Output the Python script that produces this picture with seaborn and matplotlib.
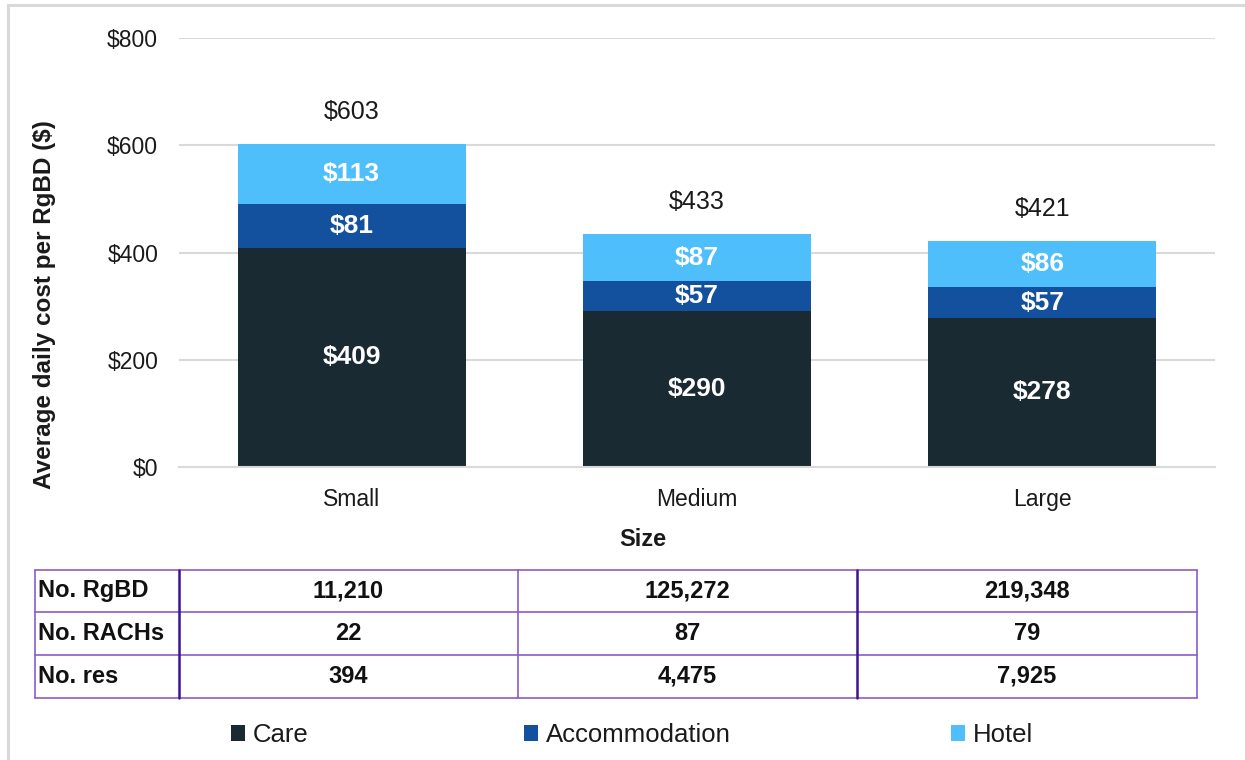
import matplotlib
matplotlib.use("Agg")
import matplotlib.pyplot as plt
import seaborn as sns
import pandas as pd
from matplotlib.patches import Patch
from matplotlib.lines import Line2D

# Average daily cost per RgBD by facility size
sizes = ["Small", "Medium", "Large"]
care = [409, 290, 278]
accommodation = [81, 57, 57]
hotel = [113, 87, 86]
totals = [603, 433, 421]

# Facility counts shown beneath the chart
row_labels = ["No. RgBD", "No. RACHs", "No. res"]
no_rgbd = ["11,210", "125,272", "219,348"]
no_rachs = ["22", "87", "79"]
no_res = ["394", "4,475", "7,925"]

y_ticks = [0, 200, 400, 600, 800]

c_care = "#1a2a33"
c_acc = "#13519f"
c_hotel = "#4fbffb"
grid_c = "#d9d9d9"
border_c = "#8a5cc8"
border_dark = "#3f128f"
text_c = "#1a1a1a"

sns.set_theme(style="white")
plt.rcParams["font.family"] = ["Liberation Sans", "DejaVu Sans"]

fig = plt.figure(figsize=(12.45, 7.6), dpi=100)
W, H = 1245, 760

def fx(x):
    return x / W

def fy(y):
    return 1 - y / H

ax_left, ax_right, ax_top, ax_bottom = 179, 1215, 38, 467
ax = fig.add_axes([fx(ax_left), fy(ax_bottom), fx(ax_right) - fx(ax_left), fy(ax_top) - fy(ax_bottom)])

df = pd.DataFrame({
    "size": sizes,
    "care": care,
    "care_acc": [c + a for c, a in zip(care, accommodation)],
    "total": [c + a + h for c, a, h in zip(care, accommodation, hotel)],
})

bw = 0.66
sns.barplot(data=df, x="size", y="total", color=c_hotel, width=bw, saturation=1, ax=ax, zorder=2)
sns.barplot(data=df, x="size", y="care_acc", color=c_acc, width=bw, saturation=1, ax=ax, zorder=2)
sns.barplot(data=df, x="size", y="care", color=c_care, width=bw, saturation=1, ax=ax, zorder=2)
for p in ax.patches:
    p.set_edgecolor("none")

ax.set_ylim(0, 800)
ax.set_xlim(-0.5, 2.5)
ax.set_yticks(y_ticks)
ax.set_yticklabels([f"${v}" for v in y_ticks], fontsize=16.5, color=text_c)
ax.yaxis.grid(True, color=grid_c, linewidth=1.5, zorder=0)
ax.set_axisbelow(True)
for s in ["top", "right", "left"]:
    ax.spines[s].set_visible(False)
ax.spines["bottom"].set_color(grid_c)
ax.spines["bottom"].set_linewidth(1.5)
ax.tick_params(axis="y", length=0, pad=15)
ax.set_xticks(range(len(sizes)))
ax.set_xticklabels(sizes, fontsize=16.5, color=text_c)
ax.tick_params(axis="x", length=0, pad=15)
ax.set_xticks([-0.5, 0.5, 1.5, 2.5], minor=True)
ax.tick_params(axis="x", which="minor", length=7, width=1.5, color=grid_c, direction="out")
ax.set_xlabel("")
ax.set_ylabel("Average daily cost per RgBD ($)", fontsize=17.5, fontweight="bold",
              color=text_c, va="center")
ax.yaxis.set_label_coords((45 - ax_left) / (ax_right - ax_left),
                          (ax_bottom - 305) / (ax_bottom - ax_top))
fig.text(fx(643), fy(540), "Size", ha="center", va="center",
         fontsize=17, fontweight="bold", color=text_c)

# Segment values
for i in range(len(sizes)):
    segs = [(0, care[i]), (care[i], accommodation[i]), (care[i] + accommodation[i], hotel[i])]
    for base, val in segs:
        ax.text(i, base + val / 2, f"${val}", ha="center", va="center",
                color="white", fontsize=19, fontweight="bold", zorder=3)
    ax.annotate(f"${totals[i]}", xy=(i, df["total"][i]), xytext=(0, 23),
                textcoords="offset points", ha="center", va="center",
                fontsize=18, color=text_c)

# Data table under the chart
tx0, tx1 = 35, 1197
ty0, ty1 = 570, 698
col_edges = [35, 179, 518, 857, 1197]
row_edges = [570, 612, 655, 698]
tab = fig.add_axes([fx(tx0), fy(ty1), fx(tx1) - fx(tx0), fy(ty0) - fy(ty1)])
tab.set_xlim(tx0, tx1)
tab.set_ylim(ty1, ty0)
tab.axis("off")
rows = [no_rgbd, no_rachs, no_res]
for r, (lab, vals) in enumerate(zip(row_labels, rows)):
    yc = (row_edges[r] + row_edges[r + 1]) / 2
    tab.text(col_edges[0] + 3, yc, lab, ha="left", va="center",
             fontsize=17, fontweight="bold", color="#111111")
    for c, v in enumerate(vals):
        xc = (col_edges[c + 1] + col_edges[c + 2]) / 2
        tab.text(xc, yc, v, ha="center", va="center",
                 fontsize=17, fontweight="bold", color="#111111")
for y in row_edges:
    tab.plot([tx0, tx1], [y, y], color=border_c, linewidth=1.2, clip_on=False)
for i, x in enumerate(col_edges):
    dark = i in (1, 3)
    tab.plot([x, x], [ty0, ty1], color=border_dark if dark else border_c,
             linewidth=1.8 if dark else 1.2, clip_on=False)

# Legend entries
entries = [("Care", c_care, 231), ("Accommodation", c_acc, 524), ("Hotel", c_hotel, 951)]
for name, col, x in entries:
    fig.legend(handles=[Patch(facecolor=col, edgecolor="none")], labels=[name],
               loc="center left", bbox_to_anchor=(fx(x), fy(735)), frameon=False,
               fontsize=18.5, handlelength=0.55, handleheight=0.55, handletextpad=0.3,
               borderpad=0, borderaxespad=0, labelcolor=text_c)

# Outer frame (left and top edges)
fig.add_artist(Line2D([fx(8), fx(8)], [0, fy(5)], transform=fig.transFigure,
                      color="#d9d9d9", linewidth=2.2))
fig.add_artist(Line2D([fx(8), 1], [fy(5), fy(5)], transform=fig.transFigure,
                      color="#d9d9d9", linewidth=2.2))

fig.savefig("out.png", dpi=100, facecolor="white")
